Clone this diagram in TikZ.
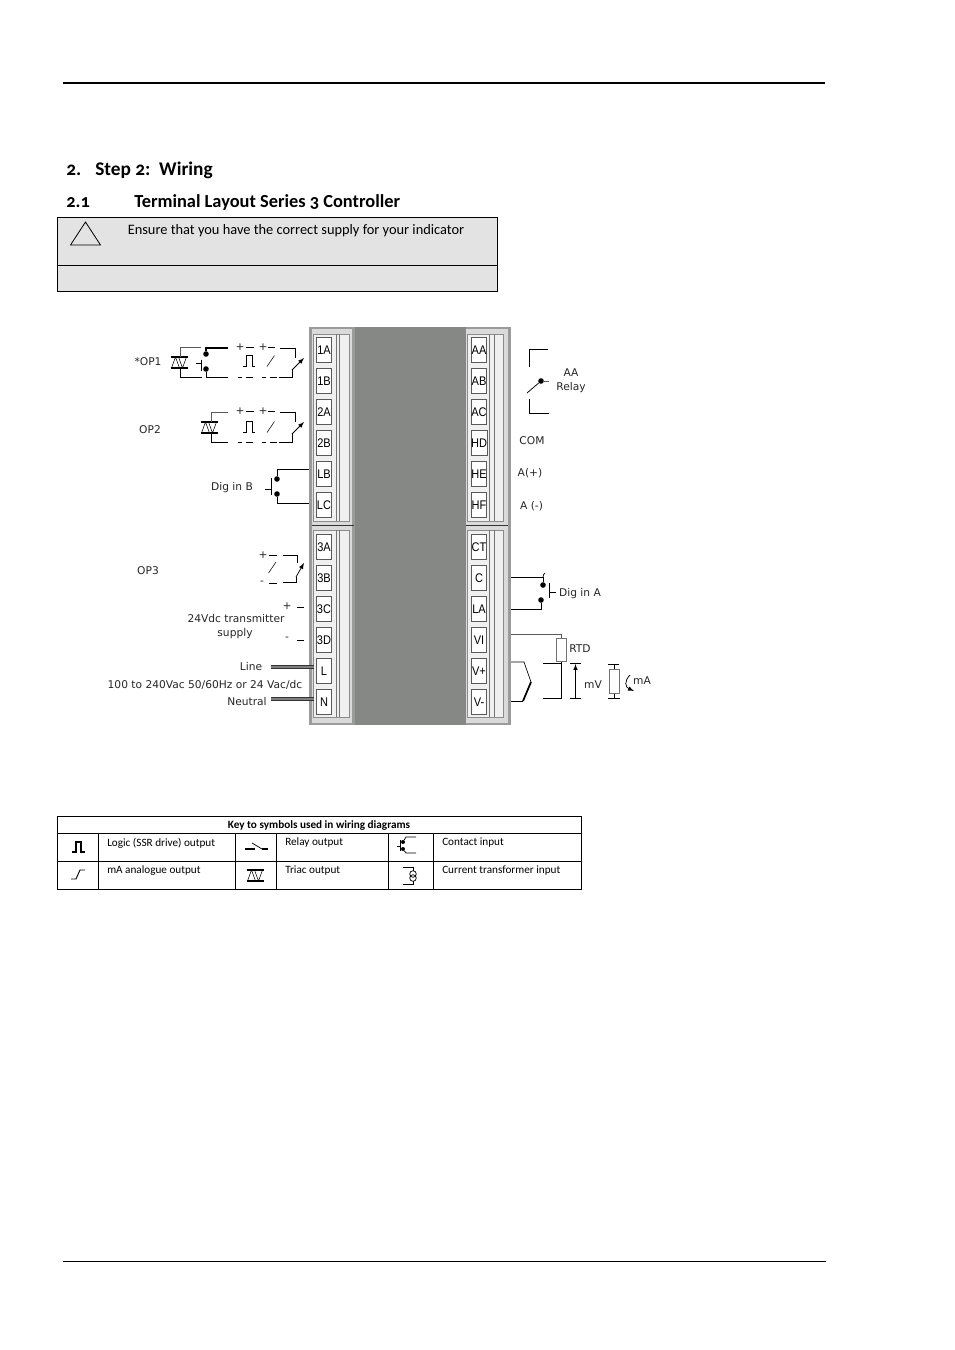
\documentclass[tikz,border=0pt]{standalone}
\usepackage{fontspec}
\setmainfont[Numbers=OldStyle]{Carlito}
\newfontfamily\diagfont{DejaVu Sans}
\newfontfamily\termfont[FakeStretch=0.88]{Liberation Sans}
\definecolor{bodygray}{HTML}{868886}
\definecolor{framegray}{HTML}{9A9C9A}
\definecolor{panelgray}{HTML}{F0F0F0}
\definecolor{boxgray}{HTML}{E3E3E3}
\definecolor{stripgray}{HTML}{DADADA}
\tikzset{
  triacsym/.pic = {
    \draw[thick] (-8.5,-5.5) -- (8.5,-5.5) (-8.5,5.5) -- (8.5,5.5);
    \draw (-7.5,5.5) -- (-3.5,-5.5) -- (0.5,5.5) (-0.5,-5.5) -- (3.5,5.5) -- (7.5,-5.5);
  },
  pulsesym/.pic = {
    \draw (-6,5.5) -- (-3,5.5) -- (-3,-5.5) -- (3,-5.5) -- (3,5.5) -- (6,5.5);
  },
  rampsym/.pic = {
    \draw (-4,5.5) -- (3.5,-5.5);
  }
}
\begin{document}
\begin{tikzpicture}[x=0.75pt, y=-0.75pt, node distance={23.25pt},
  term/.style = {draw=black!65, fill=white, line width=0.7pt, inner sep=0pt, minimum width=11.25pt, minimum height=18.75pt, text height=6.6pt, text depth=0pt, font=\termfont\fontsize{9.4}{10}\selectfont},
  lbl/.style = {inner sep=0pt, yshift=-0.75pt, font=\diagfont\fontsize{8}{9}\selectfont, text=black!85},
  keytext/.style = {inner sep=0pt, anchor=west, yshift=-0.75pt, font=\fontsize{8.4}{10}\selectfont},
  dotn/.style = {circle, fill=black, inner sep=0pt, minimum size=4.2pt},
  wire/.style = {line width=0.55pt},
  thinw/.style = {line width=0.45pt, draw=black!65},
  feedw/.style = {line width=0.7pt, draw=black!80, double=black!50, double distance=1.3pt},
  resist/.style = {draw=black!55, fill=white, line width=0.6pt, inner sep=0pt, minimum width=7.5pt, minimum height=17.5pt}]
\useasboundingbox (0,0) rectangle (954,1350);

% page rules and headings
\draw[line width=1.5pt] (63,83) -- (825,83);
\draw[line width=0.6pt] (63,1261) -- (826,1261);
\node[inner sep=0pt, anchor=base west, font=\bfseries\fontsize{14.5}{16}\selectfont] (h1no) at (66,175) {2.};
\node[inner sep=0pt, anchor=base west, font=\bfseries\fontsize{14.5}{16}\selectfont] (h1) at (95,175) {Step 2:\ \ Wiring};
\node[inner sep=0pt, anchor=base west, font=\bfseries\fontsize{13.8}{16}\selectfont] (h2no) at (66,207) {2.1};
\node[inner sep=0pt, anchor=base west, font=\bfseries\fontsize{13.8}{16}\selectfont] (h2) at (134,207) {Terminal Layout Series 3 Controller};

% caution box
\draw[fill=boxgray, line width=0.6pt] (57.5,217.5) rectangle (497.5,291.5);
\draw[line width=0.6pt] (57.5,265.5) -- (497.5,265.5);
\draw[line width=0.6pt] (70.5,245) -- (85.5,222) -- (100.5,245) -- cycle;
\node[inner sep=0pt, anchor=base west, font=\fontsize{10.8}{12}\selectfont] (warn) at (127.5,234.5) {Ensure that you have the correct supply for your indicator};

% controller body
\fill[framegray] (309,327) rectangle (511,725);
\fill[stripgray] (312,329) rectangle (352,723);
\fill[stripgray] (466,329) rectangle (508,723);
\fill[bodygray] (355,327) rectangle (466,725);
\draw[black!80, line width=0.7pt] (312,525) -- (354,525) (466,525) -- (508,525);
\draw[fill=panelgray, draw=black!45, line width=0.5pt] (313,334) rectangle (349,521) (313,530) rectangle (349,717);
\draw[fill=panelgray, draw=black!45, line width=0.5pt] (467,334) rectangle (503,521) (467,530) rectangle (503,717);
\draw[black!55, line width=0.5pt] (336,334) -- (336,521) (339,334) -- (339,521) (336,530) -- (336,717) (339,530) -- (339,717);
\draw[black!55, line width=0.5pt] (489,334) -- (489,521) (494,334) -- (494,521) (489,530) -- (489,717) (494,530) -- (494,717);

% left terminals
\node[term] (1A) at (324,350) {1A};
\node[term] (1B) [below of=1A] {1B};
\node[term] (2A) [below of=1B] {2A};
\node[term] (2B) [below of=2A] {2B};
\node[term] (LB) [below of=2B] {LB};
\node[term] (LC) [below of=LB] {LC};
\node[term] (3A) at (324,547) {3A};
\node[term] (3B) [below of=3A] {3B};
\node[term] (3C) [below of=3B] {3C};
\node[term] (3D) [below of=3C] {3D};
\node[term] (L)  [below of=3D] {L};
\node[term] (N)  [below of=L]  {N};

% right terminals
\node[term] (AA) at (479,350) {AA};
\node[term] (AB) [below of=AA] {AB};
\node[term] (AC) [below of=AB] {AC};
\node[term] (HD) [below of=AC] {HD};
\node[term] (HE) [below of=HD] {HE};
\node[term] (HF) [below of=HE] {HF};
\node[term] (CT) at (479,547) {CT};
\node[term] (C)  [below of=CT] {C};
\node[term] (LA) [below of=C]  {LA};
\node[term] (VI) [below of=LA] {VI};
\node[term] (Vp) [below of=VI] {V+};
\node[term] (Vm) [below of=Vp] {V-};

% OP1
\node[lbl] (op1) at (148,361) {*OP1};
\pic at (179,362.5) {triacsym};
\coordinate (op1t) at (180,357);
\coordinate (op1b) at (180,368);
\node[dotn] (op1c) at (206,354) {};
\node[dotn] (op1d) at (206,369) {};
\coordinate (op1e) at (228,348);
\coordinate (op1f) at (228,377);
\draw[thinw] (op1t) |- (201,347);
\draw[wire] (op1b) |- (202,377);
\draw[wire] (201,360) -- (201,371) (196,363) -- (201,363);
\draw[line width=0.9pt] (op1c) |- (op1e);
\draw[wire] (op1d) |- (op1f);
\pic at (249,361) {pulsesym};
\pic at (271,361) {rampsym};
\draw[wire] (246,347) -- (254,347) (268,347) -- (275,347) (280,348) -- (295,348) -- (295,358);
\draw[wire] (238,377) -- (242,377) (246,377) -- (253,377) (262,377) -- (266,377) (270,377) -- (277,377) (279,377) -- (292,377) -- (292,370);
\draw[wire, -latex] (292,370) -- (304,358);
\node[lbl] (op1pa) at (240,346) {+};
\node[lbl] (op1pb) at (263,346) {+};

% OP2
\node[lbl] (op2) at (150,429) {OP2};
\pic at (209,427.5) {triacsym};
\draw[thinw] (211,422) |- (228,412);
\draw[wire] (211,433) |- (228,442);
\pic at (249,427) {pulsesym};
\pic at (271,427) {rampsym};
\draw[wire] (246,411) -- (254,411) (268,411) -- (275,411) (280,412) -- (295,412) -- (295,422);
\draw[wire] (238,442) -- (242,442) (246,442) -- (253,442) (262,442) -- (266,442) (270,442) -- (277,442) (279,442) -- (292,442) -- (292,434);
\draw[wire, -latex] (292,434) -- (304,422);
\node[lbl] (op2pa) at (240,410) {+};
\node[lbl] (op2pb) at (263,410) {+};

% Dig in B
\node[lbl] (digb) at (232,487) {Dig in B};
\node[dotn] (digba) at (277,479) {};
\node[dotn] (digbb) at (277,494) {};
\coordinate (lbp) at (309,469);
\coordinate (lcp) at (309,503);
\draw[wire] (digba) |- (lbp);
\draw[wire] (digbb) |- (lcp);
\draw[wire] (271,478) -- (271,495) (265,489) -- (271,489);

% OP3
\node[lbl] (op3) at (148,570) {OP3};
\pic at (272.5,567.5) {rampsym};
\draw[wire] (269,555) -- (277,555) (283,555) -- (297,555) -- (297,563);
\draw[wire] (269,583) -- (277,583) (283,582) -- (296,582) -- (296,577);
\draw[wire, -latex] (296,577) -- (304,563);
\node[lbl] (op3pa) at (263,554) {+};
\node[lbl] (op3pb) at (262,582) {-};

% transmitter supply
\node[lbl] (txa) at (287,605) {+};
\node[lbl] (txb) at (287,638) {-};
\draw[wire] (297,607) -- (304,607) (297,640) -- (304,640);
\node[lbl] (txt) at (236,618) {24Vdc transmitter};
\node[lbl] (txs) at (235,633) {supply};

% supply
\node[lbl] (line) at (251,666) {Line};
\node[lbl] (rng) at (205,684) {100 to 240Vac 50/60Hz or 24 Vac/dc};
\node[lbl] (neut) at (247,701) {Neutral};
\coordinate (linep) at (271,667);
\coordinate (lineq) at (314,667);
\coordinate (neutp) at (271,699);
\coordinate (neutq) at (314,699);
\draw[feedw] (linep) -- (lineq);
\draw[feedw] (neutp) -- (neutq);

% AA relay
\node[dotn] (aad) at (541,381) {};
\coordinate (aac) at (527,393);
\draw[wire] (529,367) -- (529,349) -- (548,349);
\draw[wire] (529,399) -- (529,413) -- (549,413);
\draw[wire] (aac) -- (aad);
\draw[thinw] (aad) -- (549,381);
\node[lbl] (aa) at (571,372) {AA};
\node[lbl] (rly) at (571,387) {Relay};

% comms
\node[lbl] (com) at (532,440) {COM};
\node[lbl] (ap) at (530,472) {A(+)};
\node[lbl] (am) at (531.5,505.5) {A (-)};

% Dig in A
\node[dotn] (diga) at (543,585) {};
\node[dotn] (digc) at (541,600) {};
\coordinate (cp) at (511,577);
\coordinate (lap) at (511,609);
\draw[wire] (cp) -- (543,577) -- (diga);
\draw[wire] (543,577) .. controls (543,575) and (544,574) .. (545,573);
\draw[wire] (digc) |- (lap);
\draw[wire] (549,583) -- (549,598) (549,592) -- (556,592);
\node[lbl] (dgn) at (580,593) {Dig in A};

% RTD, mV, mA
\node[resist] (rtd) at (561,650) {};
\coordinate (vip) at (511,634);
\draw[thinw] (vip) -| (rtd.north);
\draw[wire] (rtd.south) -- (561,698) -- (543,698) (543,663) -- (561,663);
\node[lbl] (rtdl) at (580,648) {RTD};
\draw[line width=0.5pt] (511,662) -- (524,662) -- (531,682);
\draw[line width=1.3pt] (531,682) -- (523,701);
\draw[line width=0.5pt] (523,701) -- (511,701);
\draw[wire] (570,663) -- (581,663) (570,698) -- (581,698);
\draw[wire, -latex] (575.5,698) -- (575.5,664);
\node[lbl] (mv) at (593,684) {mV};
\node[resist] (mar) at (614.5,681.5) {};
\draw[wire] (608,664) -- (619,664) (608,698) -- (620,698);
\draw[wire] (614.5,664) -- (mar.north) (mar.south) -- (614.5,698);
\draw[wire, -latex] (630,675) .. controls (624,681) and (625,687) .. (634,691);
\node[lbl] (ma) at (642,680) {mA};

% key table
\draw[line width=0.6pt] (57.5,816.5) rectangle (581.5,889.5);
\draw[line width=0.6pt] (57.5,833.5) -- (581.5,833.5) (57.5,861.5) -- (581.5,861.5);
\draw[line width=0.6pt] (98.5,833.5) -- (98.5,889.5) (235.5,833.5) -- (235.5,889.5) (276.5,833.5) -- (276.5,889.5) (388.5,833.5) -- (388.5,889.5) (433.5,833.5) -- (433.5,889.5);
\node[inner sep=0pt, yshift=-0.75pt, font=\bfseries\fontsize{8.4}{10}\selectfont] (keyh) at (319,825) {Key to symbols used in wiring diagrams};
\node[keytext] (k1) at (107,842) {Logic (SSR drive) output};
\node[keytext] (k2) at (285,842) {Relay output};
\node[keytext] (k3) at (442,842) {Contact input};
\node[keytext] (k4) at (107,870) {mA analogue output};
\node[keytext] (k5) at (285,870) {Triac output};
\node[keytext] (k6) at (442,870) {Current transformer input};
\draw[line width=0.9pt] (72,852) -- (76,852) -- (76,842) -- (81,842) -- (81,852) -- (85,852);
\draw[line width=0.7pt] (71,879) -- (76,879) -- (80,870) -- (85,870);
\pic at (255,875.5) {triacsym};
% relay icon
\draw[line width=1pt] (245,849) -- (255,849) (262,849) -- (268,849);
\draw[wire] (252,843) -- (262,849);
% contact icon
\node[dotn, minimum size=3pt] (kca) at (403,842) {};
\node[dotn, minimum size=3pt] (kcb) at (403,849) {};
\draw[wire] (kca) -- (406,837) -- (416,837);
\draw[wire] (kcb) -- (406,853) -- (416,853);
\draw[wire] (400,840) -- (400,851) (397,846) -- (400,846);
% current transformer icon
\draw[wire] (403,867) -- (413,867) -- (413,871) (413,881) -- (413,884) -- (403,884);
\draw[wire] (413,874) circle (3.3) (413,878) circle (3.3);
\end{tikzpicture}
\end{document}
